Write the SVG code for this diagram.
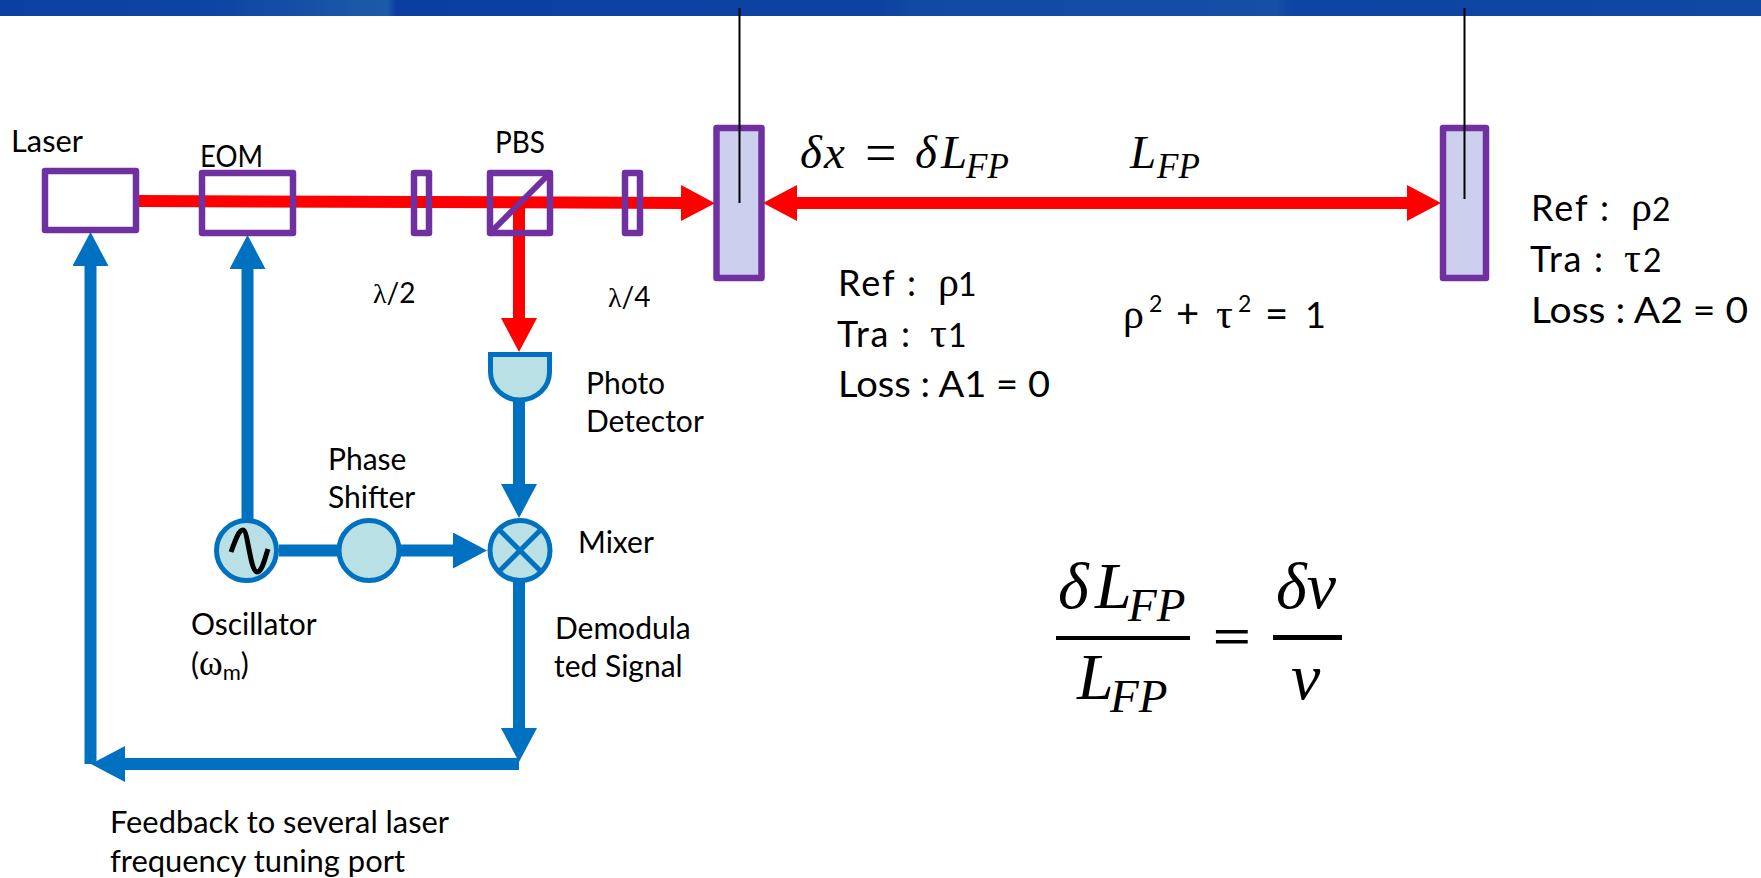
<svg xmlns="http://www.w3.org/2000/svg" width="1761" height="878" viewBox="0 0 1761 878">
<style>
.t{font-family:"Lato","Noto Sans",sans-serif;fill:#000;font-size:30px}
.s{font-size:28px}
.b{font-size:36px}
.d{font-size:32px}
.g{font-family:"Liberation Serif",serif;font-size:42px}
.m{font-family:"Liberation Serif",serif;font-style:italic;fill:#000}
.box{fill:none;stroke:#7030a0;stroke-width:6.5;stroke-linejoin:round}
.mir{fill:#cdcfee;stroke:#7030a0;stroke-width:6.5;stroke-linejoin:round}
.cir{fill:#b9e0e4;stroke:#0070c0;stroke-width:5}
.sus{stroke:#000;stroke-width:2;fill:none}
.red{stroke:#f00;stroke-width:12;fill:none}
.blue{stroke:#0070c0;stroke-width:12;fill:none}
.ra{marker-end:url(#rh)}
.ba{marker-end:url(#bh)}
</style>
<defs>
<marker id="rh" markerUnits="userSpaceOnUse" viewBox="0 0 34 36" markerWidth="34" markerHeight="36" refX="0" refY="18" orient="auto-start-reverse"><path d="M0 0L34 18L0 36Z" fill="#f00"/></marker>
<marker id="bh" markerUnits="userSpaceOnUse" viewBox="0 0 34 36" markerWidth="34" markerHeight="36" refX="0" refY="18" orient="auto"><path d="M0 0L34 18L0 36Z" fill="#0070c0"/></marker>
<linearGradient id="hd" x1="0" y1="0" x2="1761" y2="0" gradientUnits="userSpaceOnUse">
<stop offset="0" stop-color="#0b3fa2"/><stop offset=".12" stop-color="#0e44a3"/><stop offset=".22" stop-color="#1c5ba8"/><stop offset=".225" stop-color="#0b3ea2"/><stop offset=".5" stop-color="#0e42a2"/><stop offset=".52" stop-color="#1149a3"/><stop offset=".6" stop-color="#124ba4"/><stop offset=".725" stop-color="#154fa6"/><stop offset=".735" stop-color="#0e44a3"/><stop offset="1" stop-color="#1048a4"/>
</linearGradient>
</defs>
<rect id="header" x="0" y="0" width="1761" height="16" fill="url(#hd)"/>
<g id="connectors">
<path class="red ra" d="M139 201L681 203"/>
<path class="red ra" d="M519 203V318"/>
<path class="red ra" style="marker-start:url(#rh)" d="M797 203H1407"/>
<path class="blue ba" d="M90.5 764V266"/>
<path class="blue ba" d="M247.5 520V269"/>
<path class="blue ba" d="M519 400V484"/>
<path class="blue" d="M279 550.5H337"/>
<path class="blue ba" d="M401 550.5H453"/>
<path class="blue ba" d="M519 580V728"/>
<path class="blue ba" d="M519 764H125"/>
</g>
<g id="laser"><rect class="box" x="45" y="171" width="91" height="59"/><text class="t" x="11" y="152" textLength="72" lengthAdjust="spacingAndGlyphs">Laser</text></g>
<g id="eom"><rect class="box" x="202" y="173" width="91" height="60"/><text class="t" x="200" y="167" textLength="63" lengthAdjust="spacingAndGlyphs">EOM</text></g>
<g id="half-wave"><rect class="box" x="414" y="173" width="15" height="60"/><text class="t s" x="373" y="303"><tspan font-family="Liberation Serif">λ</tspan>/2</text></g>
<g id="pbs"><rect class="box" x="490" y="173" width="60" height="60"/><path d="M490 233L550 173" stroke="#7030a0" stroke-width="6" fill="none"/><text class="t" x="495" y="153" textLength="50" lengthAdjust="spacingAndGlyphs">PBS</text></g>
<g id="quarter-wave"><rect class="box" x="625" y="173" width="15" height="60"/><text class="t s" x="608" y="307"><tspan font-family="Liberation Serif">λ</tspan>/4</text></g>
<g id="mirror1"><rect class="mir" x="716.5" y="128" width="45" height="150"/><path class="sus" d="M739.5 8V203"/>
<text class="t b" x="838" y="296" textLength="78" lengthAdjust="spacing">Ref :</text><text class="t b" y="296"><tspan x="938" class="g">ρ</tspan><tspan x="958" class="d">1</tspan></text>
<text class="t b" x="837" y="347" textLength="73" lengthAdjust="spacing">Tra :</text><text class="t b" y="347"><tspan x="930" class="g">τ</tspan><tspan x="948" class="d">1</tspan></text>
<text class="t b" x="838" y="397" textLength="212" lengthAdjust="spacingAndGlyphs">Loss : A1 = 0</text></g>
<g id="mirror2"><rect class="mir" x="1443" y="128" width="43" height="150"/><path class="sus" d="M1464.5 8V199" stroke-width="1.5"/>
<text class="t b" x="1531" y="221" textLength="78" lengthAdjust="spacing">Ref :</text><text class="t b" y="221"><tspan x="1631" class="g">ρ</tspan><tspan x="1652" class="d">2</tspan></text>
<text class="t b" x="1530" y="272" textLength="73" lengthAdjust="spacing">Tra :</text><text class="t b" y="272"><tspan x="1624" class="g">τ</tspan><tspan x="1643" class="d">2</tspan></text>
<text class="t b" x="1531" y="323" textLength="217" lengthAdjust="spacingAndGlyphs">Loss : A2 = 0</text></g>
<g id="photo-detector"><path class="cir" d="M490.5 354.5H549.5V372A29.5 28 0 0 1 490.5 372Z"/><text class="t" x="586" y="394">Photo</text><text class="t" x="586" y="432">Detector</text></g>
<g id="oscillator"><circle class="cir" cx="246.5" cy="550.5" r="30"/><path d="M231 552C236 538 239 530 243 530C248 530 250 571 257 572C262 572 265 558 268 549" fill="none" stroke="#000" stroke-width="5"/><text class="t" x="191" y="635">Oscillator</text><text class="t" x="191" y="675">(<tspan font-family="Liberation Serif" font-size="36">ω</tspan><tspan font-size="22" dy="5">m</tspan><tspan dy="-5">)</tspan></text></g>
<g id="phase-shifter"><circle class="cir" cx="369" cy="550.5" r="30"/><text class="t" x="328" y="470">Phase</text><text class="t" x="328" y="508">Shifter</text></g>
<g id="mixer"><circle class="cir" cx="520" cy="550.5" r="30"/><path d="M499 529.5L541 571.5M541 529.5L499 571.5" stroke="#0070c0" stroke-width="5" fill="none"/><text class="t" x="578" y="553">Mixer</text></g>
<g id="labels">
<text class="t" x="555" y="639">Demodula</text><text class="t" x="554" y="677">ted Signal</text>
<text class="t" x="110" y="833" textLength="339" lengthAdjust="spacingAndGlyphs">Feedback to several laser</text><text class="t" x="110" y="872" textLength="295" lengthAdjust="spacingAndGlyphs">frequency tuning port</text>
<text class="t b" y="328"><tspan x="1123" class="g" font-size="46">ρ</tspan><tspan x="1149" y="312" font-size="23">2</tspan><tspan x="1176" y="328" font-size="40">+</tspan><tspan x="1216" class="g" font-size="46">τ</tspan><tspan x="1238" y="312" font-size="23">2</tspan><tspan x="1265" y="328" font-size="40">=</tspan><tspan x="1305">1</tspan></text>
<text class="m" y="168" font-size="47"><tspan x="800">δ</tspan><tspan x="824">x</tspan><tspan x="865" y="172" font-size="56" font-style="normal">=</tspan><tspan x="915" y="168">δ</tspan><tspan x="941">L</tspan><tspan x="966" y="178" font-size="35">FP</tspan></text>
<text class="m" y="168" font-size="47"><tspan x="1130">L</tspan><tspan x="1157" y="178" font-size="35">FP</tspan></text>
</g>
<g id="equation">
<text class="m" y="608" font-size="66"><tspan x="1058">δ</tspan><tspan x="1095">L</tspan><tspan x="1128" y="621" font-size="47">FP</tspan></text>
<rect x="1056" y="636" width="134" height="4"/>
<text class="m" y="699" font-size="66"><tspan x="1077">L</tspan><tspan x="1110" y="712" font-size="47">FP</tspan></text>
<text class="m" x="1212" y="653" font-size="50" font-style="normal" font-weight="bold" textLength="39" lengthAdjust="spacingAndGlyphs">=</text>
<text class="m" x="1276" y="608" font-size="66">δν</text>
<rect x="1273" y="635" width="69" height="5"/>
<text class="m" x="1291" y="699" font-size="66">ν</text>
</g>
</svg>
